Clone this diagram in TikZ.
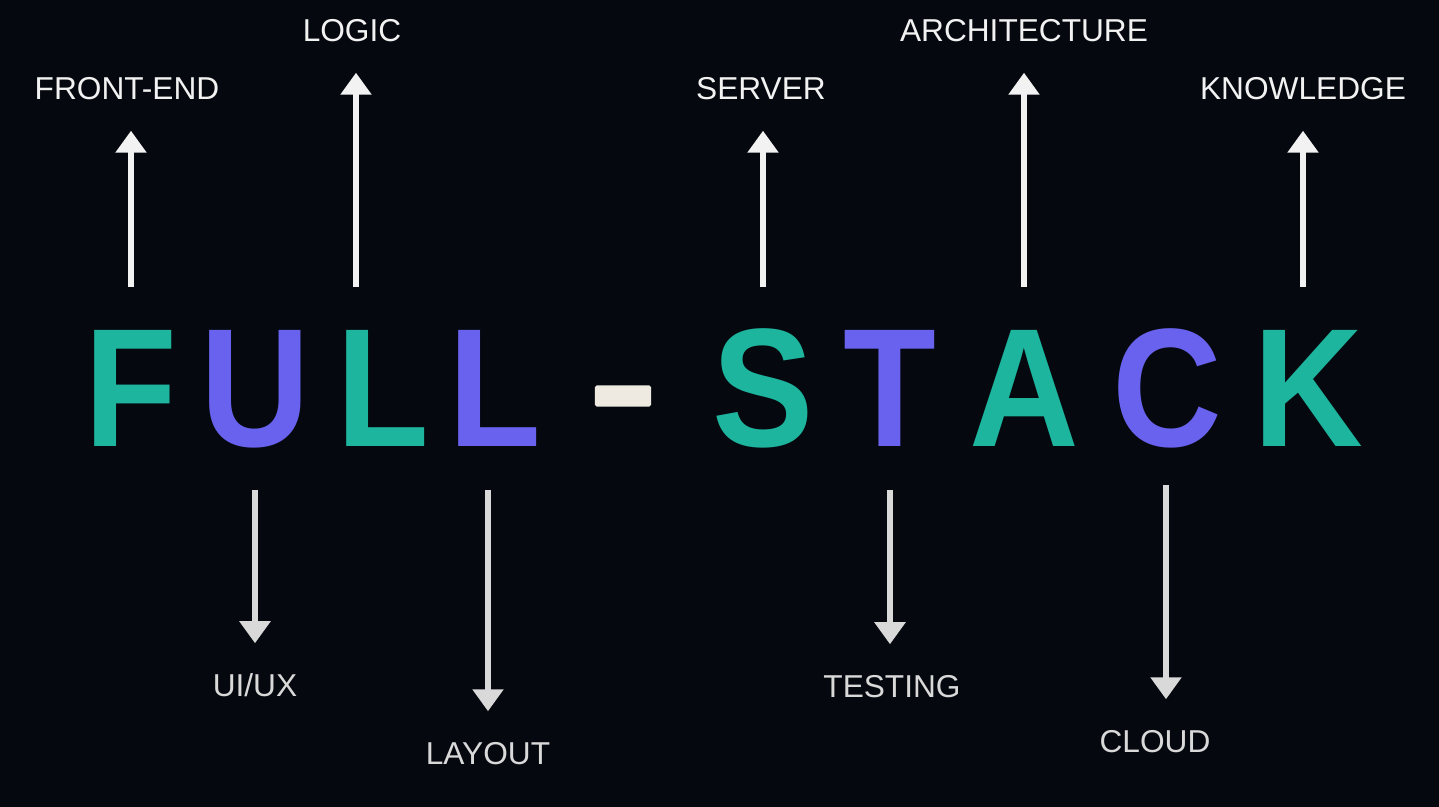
\documentclass[tikz,border=0pt]{standalone}
\usepackage{fontspec}
\setmainfont{Liberation Sans}
\newfontfamily\wordfont{Liberation Sans}[FakeStretch=0.9]
\usepackage{tikz}
\usetikzlibrary{arrows.meta}
\definecolor{night}{HTML}{05080E}
\definecolor{mint}{HTML}{1DB59E}
\definecolor{iris}{HTML}{6862EE}
\definecolor{chalk}{HTML}{F2F2F2}
\definecolor{ash}{HTML}{D9D9D9}
\definecolor{bone}{HTML}{EEEAE2}

\begin{document}
\begin{tikzpicture}[
      x=0.01cm, y=-0.01cm,
      big/.style={anchor=base, inner sep=0, font=\wordfont\fontsize{48}{50}\selectfont\bfseries},
      grn/.style={big, text=mint},
      prp/.style={big, text=iris},
      bar/.style={fill=bone, inner sep=0, minimum width=0.56cm,
                  minimum height=0.21cm, rounded corners=0.5pt},
      lbl/.style={anchor=base, inner sep=0, text height=0.23cm, text depth=0pt,
                  font=\fontsize{9}{11}\selectfont, text=chalk},
      lbldn/.style={lbl, text=ash},
      uparr/.style={-{Triangle[width=0.3cm, length=0.22cm]}, line width=0.06cm,
                    chalk, shorten >=0.3cm},
      dnarr/.style={uparr, ash}
    ]
    \fill[night] (0,0) rectangle (1439,807);

    % Title letters
    \node[grn] (f) at (131,447) {F};
    \node[prp] (u) at (255,447) {U};
    \node[grn] (l1) at (383,447) {L};
    \node[prp] (l2) at (495,447) {L};
    \node[bar] (hyph) at (623,396) {};
    \node[grn] (s) at (763,447) {S};
    \node[prp] (t) at (890,447) {T};
    \node[grn] (a) at (1024,447) {A};
    \node[prp] (c) at (1167,447) {C};
    \node[grn] (k) at (1308,447) {K};

    % Upper labels
    \node[lbl] (front) at (127,100) {FRONT-END};
    \node[lbl] (logic) at (352,42) {LOGIC};
    \node[lbl] (server) at (761,100) {SERVER};
    \node[lbl] (arch) at (1024,42) {ARCHITECTURE};
    \node[lbl] (know) at (1303,100) {KNOWLEDGE};

    % Lower labels
    \node[lbldn] (uiux) at (255,697) {UI/UX};
    \node[lbldn] (layout) at (488,765) {LAYOUT};
    \node[lbldn] (testing) at (892,698) {TESTING};
    \node[lbldn] (cloud) at (1155,753) {CLOUD};

    % Arrow feet
    \coordinate (front0) at (131,287);
    \coordinate (logic0) at (356,287);
    \coordinate (server0) at (763,287);
    \coordinate (arch0) at (1024,287);
    \coordinate (know0) at (1303,287);
    \coordinate (uiux0) at (255,490);
    \coordinate (layout0) at (488,490);
    \coordinate (testing0) at (890,490);
    \coordinate (cloud0) at (1166,485);

    \draw[uparr] (front0) -- (front0 |- front.south);
    \draw[uparr] (logic0) -- (logic0 |- logic.south);
    \draw[uparr] (server0) -- (server0 |- server.south);
    \draw[uparr] (arch0) -- (arch0 |- arch.south);
    \draw[uparr] (know0) -- (know0 |- know.south);
    \draw[dnarr] (uiux0) -- (uiux0 |- uiux.north);
    \draw[dnarr] (layout0) -- (layout0 |- layout.north);
    \draw[dnarr] (testing0) -- (testing0 |- testing.north);
    \draw[dnarr] (cloud0) -- (cloud0 |- cloud.north);
  \end{tikzpicture}
\end{document}
